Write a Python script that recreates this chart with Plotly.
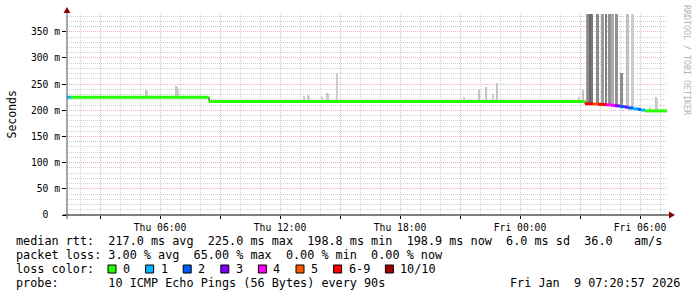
import plotly.graph_objects as go
import pandas as pd

# ---------------- data ----------------
t_start = "2026-01-08 01:20:57"
t_end = "2026-01-09 07:20:57"
y_max_ms = 384

loss_labels = ["0", "1", "2", "3", "4", "5", "6-9", "10/10"]
loss_colors = ["#26ff00", "#00b8ff", "#0059ff", "#7e00ff", "#ff00ff", "#ff5500", "#ff0000", "#a00000"]

# median RTT (ms) per stretch of time, with the loss-colour bucket index
seg_start = ["2026-01-08 01:21", "2026-01-08 01:33", "2026-01-08 08:27", "2026-01-09 03:15",
             "2026-01-09 03:39", "2026-01-09 03:54", "2026-01-09 04:06", "2026-01-09 04:18",
             "2026-01-09 04:33", "2026-01-09 04:45", "2026-01-09 05:00", "2026-01-09 05:15",
             "2026-01-09 05:24", "2026-01-09 05:39", "2026-01-09 05:54", "2026-01-09 06:03",
             "2026-01-09 06:15"]
seg_end = ["2026-01-08 01:33", "2026-01-08 08:27", "2026-01-09 03:15", "2026-01-09 03:39",
           "2026-01-09 03:54", "2026-01-09 04:06", "2026-01-09 04:18", "2026-01-09 04:33",
           "2026-01-09 04:45", "2026-01-09 05:00", "2026-01-09 05:15", "2026-01-09 05:24",
           "2026-01-09 05:39", "2026-01-09 05:54", "2026-01-09 06:03", "2026-01-09 06:15",
           "2026-01-09 07:21"]
seg_rtt_ms = [225.0, 225.0, 217.0, 212.5, 212.0, 211.5, 211.0, 210.5, 209.5, 208.5,
              207.0, 206.0, 204.5, 203.0, 201.8, 200.5, 198.9]
seg_loss = [1, 0, 0, 6, 5, 6, 6, 4, 4, 3, 2, 3, 2, 1, 2, 1, 0]

# smoke (spread of the individual pings)
smoke_time = ["2026-01-08 05:15", "2026-01-08 05:18", "2026-01-08 05:21", "2026-01-08 06:48",
              "2026-01-08 06:51", "2026-01-08 06:54", "2026-01-08 13:12", "2026-01-08 13:24",
              "2026-01-08 13:27", "2026-01-08 14:06", "2026-01-08 14:21", "2026-01-08 14:24",
              "2026-01-08 14:51", "2026-01-08 21:12", "2026-01-08 21:24", "2026-01-08 21:57",
              "2026-01-08 22:18", "2026-01-08 22:39", "2026-01-08 22:51", "2026-01-09 02:57",
              "2026-01-09 03:09", "2026-01-09 03:21", "2026-01-09 03:24", "2026-01-09 03:30",
              "2026-01-09 03:33", "2026-01-09 03:36", "2026-01-09 03:51", "2026-01-09 03:54",
              "2026-01-09 04:06", "2026-01-09 04:09", "2026-01-09 04:18", "2026-01-09 04:27",
              "2026-01-09 04:30", "2026-01-09 04:36", "2026-01-09 04:39", "2026-01-09 04:48",
              "2026-01-09 04:51", "2026-01-09 05:03", "2026-01-09 05:06", "2026-01-09 05:21",
              "2026-01-09 05:24", "2026-01-09 05:36", "2026-01-09 05:39", "2026-01-09 06:30",
              "2026-01-09 06:48", "2026-01-09 06:51"]
smoke_low_ms = [225, 225, 225, 225, 225, 225, 217, 217, 217, 217, 217, 217, 217, 217, 217, 217,
                217, 217, 217, 217, 217, 212, 212, 212, 212, 212, 212, 211, 211, 211, 210, 210,
                209, 209, 209, 208, 208, 207, 207, 205, 205, 203, 203, 199, 199, 199]
smoke_high_ms = [228, 238, 236, 246, 245, 240, 227, 229, 228, 225, 233, 231, 271, 225, 222, 239,
                 244, 231, 252, 226, 238, 450, 450, 450, 450, 450, 450, 450, 450, 450, 450, 450,
                 450, 450, 450, 450, 450, 271, 271, 450, 450, 450, 450, 207, 225, 222]
smoke_shade = ["#cccccc", "#c4c4c4", "#cccccc", "#c4c4c4", "#c4c4c4", "#cccccc", "#cccccc",
               "#c4c4c4", "#cccccc", "#cccccc", "#c4c4c4", "#cccccc", "#cccccc", "#cccccc",
               "#d4d4d4", "#c4c4c4", "#c4c4c4", "#cccccc", "#c4c4c4", "#cccccc", "#c4c4c4",
               "#a0a0a0", "#8c8c8c", "#6e6e6e", "#666666", "#7a7a7a", "#8c8c8c", "#8c8c8c",
               "#a4a4a4", "#999999", "#7e7e7e", "#929292", "#929292", "#b0b0b0", "#a8a8a8",
               "#929292", "#929292", "#8c8c8c", "#8c8c8c", "#c0c0c0", "#c0c0c0", "#cccccc",
               "#cccccc", "#d0d0d0", "#c4c4c4", "#cccccc"]

y_ticks_ms = [0, 50, 100, 150, 200, 250, 300, 350]
y_tick_text = ["0  ", "50 m", "100 m", "150 m", "200 m", "250 m", "300 m", "350 m"]

stats_line1 = "median rtt:  217.0 ms avg  225.0 ms max  198.8 ms min  198.9 ms now  6.0 ms sd  36.0   am/s"
stats_line2 = "packet loss: 3.00 % avg  65.00 % max  0.00 % min  0.00 % now"
legend_head = "loss color:"
probe_line = "probe:       10 ICMP Echo Pings (56 Bytes) every 90s"
stamp_text = "Fri Jan  9 07:20:57 2026"
y_title = "Seconds"
watermark = "RRDTOOL / TOBI OETIKER"

# ---------------- layout geometry (pixels) ----------------
W, H = 697, 297
PL, PR, PT, PB = 67, 667, 14, 215
MONO = "DejaVu Sans Mono"
CW = 7.1  # legend char advance


def px(x):
    return (x - PL) / (PR - PL)


def py(y):
    return (PB - y) / (PB - PT)


def nb(s):
    return s.replace(" ", "\u00a0")


fig = go.Figure()

# smoke
st = pd.to_datetime(smoke_time)
fig.add_trace(go.Bar(
    x=st, base=smoke_low_ms,
    y=[h - l for h, l in zip(smoke_high_ms, smoke_low_ms)],
    width=[150000] * len(smoke_time),
    marker=dict(color=smoke_shade, line=dict(width=0)),
    hoverinfo="skip", showlegend=False))

# thin black connector (vertical transitions)
cx = list(seg_start) + [seg_end[-1]]
cy = list(seg_rtt_ms) + [seg_rtt_ms[-1]]
fig.add_trace(go.Scatter(x=pd.to_datetime(cx), y=cy, mode="lines",
                         line=dict(color="#000000", width=1, shape="hv"),
                         hoverinfo="skip", showlegend=False))

# median line coloured by loss
for k, col in enumerate(loss_colors):
    xs, ys = [], []
    for s, e, v, l in zip(seg_start, seg_end, seg_rtt_ms, seg_loss):
        if l == k:
            xs += [pd.Timestamp(s), pd.Timestamp(e), None]
            ys += [v, v, None]
    if xs:
        fig.add_trace(go.Scatter(x=xs, y=ys, mode="lines",
                                 line=dict(color=col, width=3),
                                 hoverinfo="skip", showlegend=False))

major_x = pd.date_range("2026-01-08 03:00", "2026-01-09 06:00", freq="3h")
major_x_text = [d.strftime("%a %H:%M") if d.hour % 6 == 0 else "" for d in major_x]

GRID_MINOR = "#d2d2d2"
GRID_MAJOR = "#e6b8b8"

fig.update_layout(
    width=W, height=H,
    margin=dict(l=PL, r=W - PR, t=PT, b=H - PB, pad=0),
    paper_bgcolor="#ffffff", plot_bgcolor="#ffffff",
    showlegend=False, barmode="overlay", bargap=0,
    font=dict(family=MONO, size=11.8, color="#000000"),
    xaxis=dict(
        type="date", range=[t_start, t_end],
        tickvals=list(major_x), ticktext=major_x_text,
        showgrid=True, gridcolor=GRID_MAJOR, griddash="1px,1px", gridwidth=1,
        minor=dict(dtick=3600000, tick0="2026-01-08 00:00", showgrid=True,
                   gridcolor=GRID_MINOR, griddash="1px,1px", gridwidth=1, ticks=""),
        ticks="outside", ticklen=3, tickcolor="#000000", tickwidth=1,
        tickfont=dict(family=MONO, size=9.7, color="#000000"),
        showline=False, zeroline=False, fixedrange=True,
    ),
    yaxis=dict(
        range=[0, y_max_ms],
        tickvals=y_ticks_ms, ticktext=[nb(t) for t in y_tick_text],
        showgrid=True, gridcolor=GRID_MAJOR, griddash="1px,1px", gridwidth=1,
        minor=dict(dtick=10, tick0=0, showgrid=True, gridcolor=GRID_MINOR,
                   griddash="1px,1px", gridwidth=1, ticks=""),
        ticks="outside", ticklen=4, tickcolor="#000000", tickwidth=1,
        tickfont=dict(family=MONO, size=9.7, color="#000000"),
        showline=False, zeroline=False, fixedrange=True,
    ),
)

shapes = []
# axes
shapes.append(dict(type="line", xref="paper", yref="paper", x0=px(63), x1=px(670),
                   y0=py(215), y1=py(215), line=dict(color="#000000", width=1)))
shapes.append(dict(type="line", xref="paper", yref="paper", x0=px(67), x1=px(67),
                   y0=py(219), y1=py(11), line=dict(color="#505050", width=1)))
# arrow heads
ARROW = "#8b0000"
shapes.append(dict(type="path", xref="paper", yref="paper",
                   path=f"M {px(669)} {py(211.5)} L {px(675)} {py(215)} L {px(669)} {py(218.5)} Z",
                   fillcolor=ARROW, line=dict(color=ARROW, width=0)))
shapes.append(dict(type="path", xref="paper", yref="paper",
                   path=f"M {px(63.5)} {py(13)} L {px(67)} {py(7)} L {px(70.5)} {py(13)} Z",
                   fillcolor=ARROW, line=dict(color=ARROW, width=0)))

annotations = []


def text(x, y, s, size=11.8, color="#000000", xanchor="left", angle=0, yanchor="middle"):
    annotations.append(dict(xref="paper", yref="paper", x=px(x), y=py(y), text=nb(s),
                            showarrow=False, xanchor=xanchor, yanchor=yanchor,
                            textangle=angle, borderpad=0,
                            font=dict(family=MONO, size=size, color=color)))


LX = 15
text(LX, 241, stats_line1)
text(LX, 255, stats_line2)
text(LX, 269, legend_head)
text(LX, 283, probe_line)
text(681, 283, stamp_text, xanchor="right")

# loss colour legend boxes
bx = 108.0
for lab, col in zip(loss_labels, loss_colors):
    shapes.append(dict(type="rect", xref="paper", yref="paper",
                       x0=px(bx), x1=px(bx + 8), y0=py(273), y1=py(265),
                       fillcolor=col, line=dict(color="#000000", width=1)))
    text(bx + 14, 269, lab)
    bx = bx + 15 + len(lab) * CW + 15.5

# y axis title and watermark
text(11, 114.5, y_title, size=11.5, angle=-90, xanchor="center")
text(687, 60, watermark, size=8.3, color="#b4b4b4", angle=90, xanchor="center")

fig.update_layout(shapes=shapes, annotations=annotations)

fig.write_html("out.html", include_plotlyjs=True, config={"displayModeBar": False})
